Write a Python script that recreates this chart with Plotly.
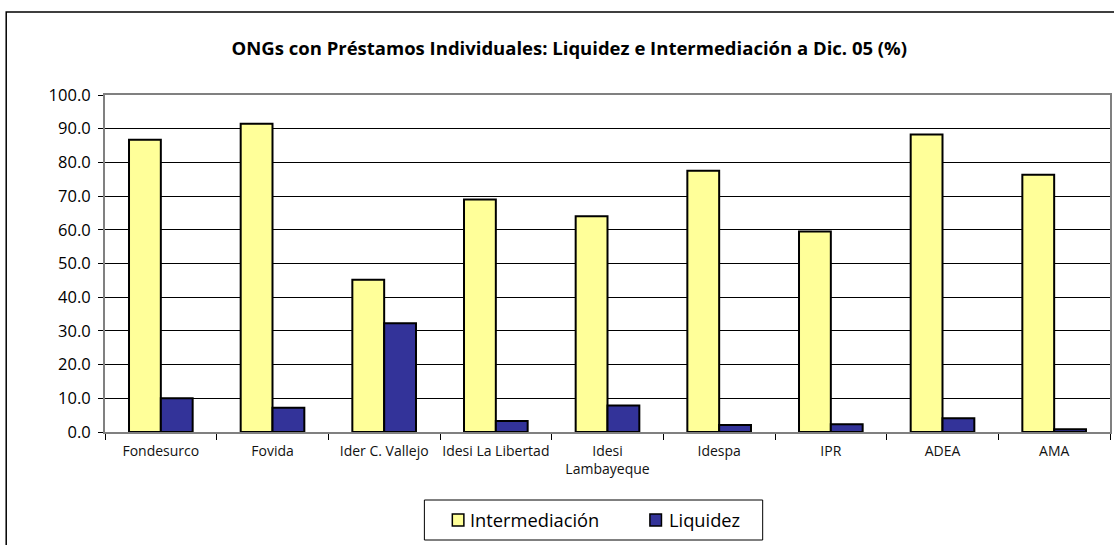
import plotly.graph_objects as go

# --- Data ---
ongs = ["Fondesurco", "Fovida", "Ider C. Vallejo", "Idesi La Libertad",
        "Idesi<br>Lambayeque", "Idespa", "IPR", "ADEA", "AMA"]
intermediacion = [86.7, 91.5, 45.2, 69.0, 64.0, 77.5, 59.5, 88.3, 76.3]
liquidez = [10.0, 7.2, 32.3, 3.3, 7.9, 2.1, 2.3, 4.1, 0.8]

series_names = ["Intermediación", "Liquidez"]
series_colors = ["#FFFF99", "#333399"]

font_family = "Open Sans, Noto Sans, sans-serif"

fig = go.Figure()
for name, vals, col in zip(series_names, [intermediacion, liquidez], series_colors):
    fig.add_trace(go.Bar(
        x=ongs, y=vals, name=name, showlegend=False,
        marker=dict(color=col, line=dict(color="#000000", width=2)),
    ))

# --- Outer chart border ---
fig.add_shape(type="rect", xref="paper", yref="paper",
              x0=-0.0983, x1=1.2, y0=-0.6, y1=1.246,
              line=dict(color="#000000", width=1.5), layer="below")

# --- Legend box (drawn by hand to match the Excel-style legend) ---
fig.add_shape(type="rect", xref="paper", yref="paper",
              x0=0.3178, x1=0.6544, y0=-0.3205, y1=-0.2018,
              line=dict(color="#000000", width=1), fillcolor="white")
sym_x = [0.3456, 0.5422]
txt_x = [0.3615, 0.5591]
for name, col, sx, tx in zip(series_names, series_colors, sym_x, txt_x):
    fig.add_shape(type="rect", xref="paper", yref="paper",
                  x0=sx, x1=sx + 0.0115, y0=-0.2789, y1=-0.2433,
                  line=dict(color="#000000", width=1.5), fillcolor=col)
    fig.add_annotation(text=name, xref="paper", yref="paper",
                       x=tx, y=-0.2611, xanchor="left", yanchor="middle",
                       showarrow=False, font=dict(size=18.3, color="#000000"))

fig.update_layout(
    width=1114, height=545,
    margin=dict(l=105, r=2, t=95, b=113),
    paper_bgcolor="white", plot_bgcolor="white",
    barmode="group", bargap=0.43, bargroupgap=0,
    font=dict(family=font_family, color="#111111"),
    title=dict(
        text="<b>ONGs con Préstamos Individuales: Liquidez e Intermediación a Dic. 05 (%)</b>",
        x=0.462, xref="paper", xanchor="center",
        y=1 - 49 / 545, yref="container", yanchor="middle",
        font=dict(size=18.5, color="#000000"),
    ),
)

fig.update_yaxes(
    range=[0, 100], dtick=10, tickformat=".1f",
    showgrid=True, gridcolor="#000000", gridwidth=1,
    ticks="outside", ticklen=5, tickcolor="#000000",
    showline=True, linecolor="#808080", linewidth=2, mirror=True,
    tickfont=dict(size=16.5, color="#000000"),
    ticklabelstandoff=4,
    zeroline=False,
)
fig.update_xaxes(
    type="category", tickson="boundaries",
    ticks="outside", ticklen=6, tickcolor="#000000",
    showline=True, linecolor="#808080", linewidth=2, mirror=True,
    tickfont=dict(size=14, color="#111111"),
    ticklabelstandoff=5,
    tickangle=0,
)

fig.write_html("out.html", config={"displayModeBar": False},
               post_script="document.body.style.margin='0';")
